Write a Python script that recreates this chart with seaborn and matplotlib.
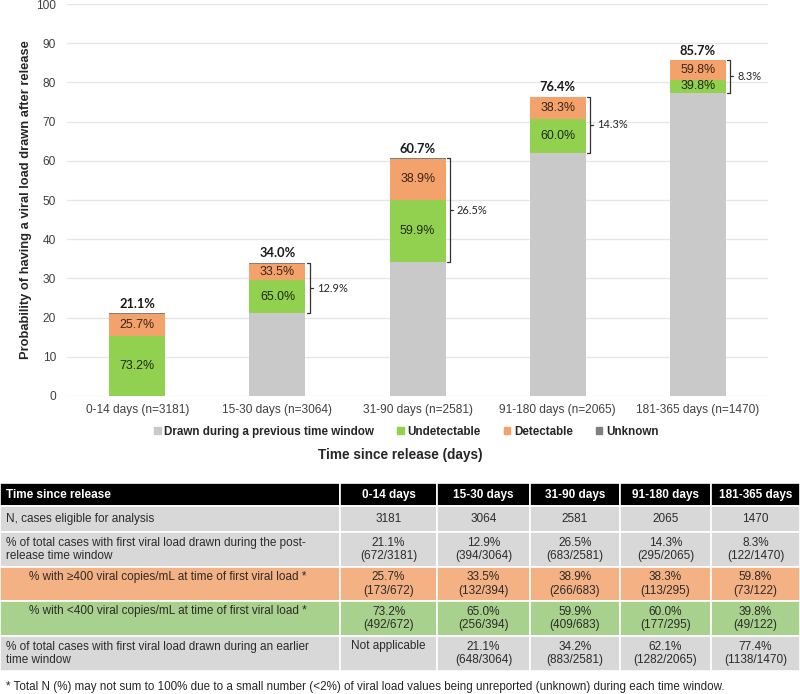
import matplotlib
matplotlib.use("Agg")
import matplotlib.pyplot as plt
import numpy as np
import pandas as pd
import seaborn as sns
from matplotlib.patches import Patch, Rectangle

sns.set_theme(style="white")
plt.rcParams["font.family"] = ["Liberation Sans", "DejaVu Sans"]

# ---- chart data (percentage points of all eligible cases) ----
windows = ["0-14 days (n=3181)", "15-30 days (n=3064)", "31-90 days (n=2581)",
           "91-180 days (n=2065)", "181-365 days (n=1470)"]
previous = [0.0, 21.1, 34.2, 62.1, 77.4]
undetectable = [15.4, 8.4, 15.9, 8.6, 3.3]
detectable = [5.4, 4.3, 10.3, 5.5, 5.0]
unknown = [0.3, 0.2, 0.3, 0.2, 0.0]

totals = ["21.1%", "34.0%", "60.7%", "76.4%", "85.7%"]
new_window = ["21.1%", "12.9%", "26.5%", "14.3%", "8.3%"]
undet_labels = ["73.2%", "65.0%", "59.9%", "60.0%", "39.8%"]
det_labels = ["25.7%", "33.5%", "38.9%", "38.3%", "59.8%"]

# ---- table data ----
col_headers = ["Time since release", "0-14 days", "15-30 days", "31-90 days",
               "91-180 days", "181-365 days"]
row_labels = [
    "N, cases eligible for analysis",
    "% of total cases with first viral load drawn during the post-\nrelease time window",
    "% with \u2265400 viral copies/mL at time of first viral load *",
    "% with <400 viral copies/mL at time of first viral load *",
    "% of total cases with first viral load drawn during an earlier\ntime window",
]
row_n = ["3181", "3064", "2581", "2065", "1470"]
row_post = ["21.1%\n(672/3181)", "12.9%\n(394/3064)", "26.5%\n(683/2581)",
            "14.3%\n(295/2065)", "8.3%\n(122/1470)"]
row_det = ["25.7%\n(173/672)", "33.5%\n(132/394)", "38.9%\n(266/683)",
           "38.3%\n(113/295)", "59.8%\n(73/122)"]
row_undet = ["73.2%\n(492/672)", "65.0%\n(256/394)", "59.9%\n(409/683)",
             "60.0%\n(177/295)", "39.8%\n(49/122)"]
row_earlier = ["Not applicable", "21.1%\n(648/3064)", "34.2%\n(883/2581)",
               "62.1%\n(1282/2065)", "77.4%\n(1138/1470)"]
footnote = ("* Total N (%) may not sum to 100% due to a small number (<2%) of viral load "
            "values being unreported (unknown) during each time window.")

GRAY, GREEN, ORANGE, DARK = "#c9c9c9", "#92d050", "#f4a26b", "#7f7f7f"
T_GRAY, T_ORANGE, T_GREEN = "#d8d8d8", "#f4b183", "#a9d18e"
TXT = "#2b2b2b"

df = pd.DataFrame({"window": windows, "previous": previous, "undetectable": undetectable,
                   "detectable": detectable, "unknown": unknown})
base_green = df["previous"]
base_orange = base_green + df["undetectable"]
base_unknown = base_orange + df["detectable"]
top = base_unknown + df["unknown"]

fig = plt.figure(figsize=(8, 6.94), dpi=100)

# table / footnote canvas in pixel coordinates
tab = fig.add_axes([0, 0, 1, 1], zorder=0)
tab.set_xlim(0, 800)
tab.set_ylim(694, 0)
tab.axis("off")

ax = fig.add_axes([0.084, 0.4294, 0.876, 0.5648], zorder=1)
ax.patch.set_alpha(0)

kw = dict(x="window", order=windows, width=0.4, errorbar=None, ax=ax,
          linewidth=0, zorder=3)
sns.barplot(data=df, y="previous", color=GRAY, saturation=1, **kw)
sns.barplot(data=df, y="undetectable", bottom=base_green.values, color=GREEN, saturation=1, **kw)
sns.barplot(data=df, y="detectable", bottom=base_orange.values, color=ORANGE, saturation=1, **kw)
sns.barplot(data=df, y="unknown", bottom=base_unknown.values, color=DARK, saturation=1, **kw)

ax.set_ylim(0, 100)
ax.set_xlim(-0.5, 4.5)
ax.set_yticks(np.arange(0, 101, 10))
ax.yaxis.grid(True, color="#e6e6e6", linewidth=0.9, zorder=0)
ax.set_axisbelow(True)
for s in ax.spines.values():
    s.set_visible(False)
ax.tick_params(axis="both", length=0, labelsize=8.6, colors="#404040")
ax.tick_params(axis="x", pad=6)
ax.tick_params(axis="y", pad=8)
ax.set_xlabel("")
ax.set_ylabel("Probability of having a viral load drawn after release",
              fontsize=9.3, fontweight="bold", color="#262626")
ax.yaxis.set_label_coords(-0.05, 0.5)

for i in range(len(windows)):
    g_mid = base_green[i] + undetectable[i] / 2
    o_mid = base_orange[i] + detectable[i] / 2
    ax.text(i, g_mid, undet_labels[i], ha="center", va="center", fontsize=8.9,
            color="#1e2a14", zorder=5)
    ax.text(i, o_mid, det_labels[i], ha="center", va="center", fontsize=8.9,
            color="#3a2414", zorder=5)
    ax.annotate(totals[i], (i, top[i]), xytext=(0, 2.5), textcoords="offset points",
                ha="center", va="bottom", fontsize=9.3, fontweight="bold",
                family=["Lato", "DejaVu Sans"], color="#1a1a1a")
    if i > 0:
        x0 = i + 0.2 + 0.03
        lo, hi = previous[i], top[i]
        mid = (lo + hi) / 2
        ax.plot([x0 - 0.022, x0, x0, x0 - 0.022], [lo, lo, hi, hi],
                color="#333333", lw=0.9, zorder=4, clip_on=False)
        ax.plot([x0, x0 + 0.022], [mid, mid], color="#333333", lw=0.9, zorder=4)
        ax.text(x0 + 0.05, mid, new_window[i], ha="left", va="center", fontsize=7.9,
                family=["Lato", "DejaVu Sans"], color="#262626")

handles = [Patch(color=GRAY, label="Drawn during a previous time window"),
           Patch(color=GREEN, label="Undetectable"),
           Patch(color=ORANGE, label="Detectable"),
           Patch(color=DARK, label="Unknown")]
leg = fig.legend(handles=handles, loc="center", bbox_to_anchor=(0.508, 0.3775), ncol=4,
                 frameon=False, handlelength=0.55, handleheight=0.55, handletextpad=0.3,
                 columnspacing=2.0, prop={"weight": "bold", "size": 8.4})
for t in leg.get_texts():
    t.set_color("#262626")
fig.text(0.5, 0.3444, "Time since release (days)", ha="center", va="center",
         fontsize=9.8, fontweight="bold", color="#262626")

# ---- table ----
col_edges = [0, 340, 437, 530, 620, 711, 800]
row_edges = [483, 506, 532, 567, 601, 636, 671]
row_fills = ["black", T_GRAY, T_GRAY, T_ORANGE, T_GREEN, T_GRAY]
body = [row_n, row_post, row_det, row_undet, row_earlier]
indent = [6, 6, 29, 29, 6]
FS = 8.5

for r in range(6):
    y0, y1 = row_edges[r], row_edges[r + 1]
    for c in range(6):
        x0, x1 = col_edges[c], col_edges[c + 1]
        tab.add_patch(Rectangle((x0, y0), x1 - x0, y1 - y0, facecolor=row_fills[r],
                                edgecolor="white", linewidth=1.2))
    yc = (y0 + y1) / 2
    if r == 0:
        for c in range(6):
            if c == 0:
                tab.text(6, yc, col_headers[c], ha="left", va="center", color="white",
                         fontsize=FS, fontweight="bold")
            else:
                tab.text((col_edges[c] + col_edges[c + 1]) / 2, yc, col_headers[c],
                         ha="center", va="center", color="white", fontsize=FS,
                         fontweight="bold")
        continue
    label = row_labels[r - 1]
    ly = yc if ("\n" in label or r == 1) else y0 + 10
    tab.text(indent[r - 1], ly, label, ha="left", va="center", fontsize=FS,
             color=TXT, linespacing=1.2)
    for c, val in enumerate(body[r - 1]):
        vy = yc if "\n" in val or r == 1 else y0 + 10
        tab.text((col_edges[c + 1] + col_edges[c + 2]) / 2, vy, val, ha="center",
                 va="center", fontsize=FS, color=TXT, linespacing=1.2)

tab.text(6, 687, footnote, ha="left", va="center", fontsize=8.4, color="#262626")

fig.savefig("out.png", dpi=100)
